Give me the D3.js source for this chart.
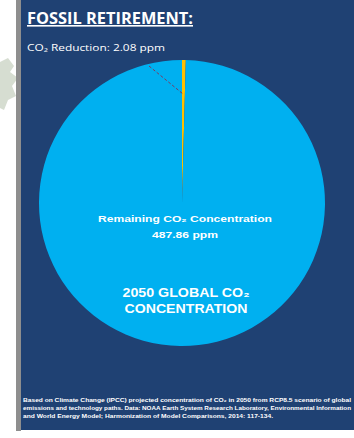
<!DOCTYPE html>
<html><head><meta charset="utf-8">
<script src="https://cdn.jsdelivr.net/npm/d3@7"></script>
<style>body{margin:0;background:#fff;}svg{display:block;font-family:"Open Sans",Calibri,"Liberation Sans",sans-serif;}</style>
</head><body>
<script>
const categories = ["CO₂ Reduction", "Remaining CO₂ Concentration"];
const values = [2.08, 487.86];
const unit = "ppm";
const colors = ["#ffc000", "#00b0f0"];
const titleText = "FOSSIL RETIREMENT:";
const subtitleText = "CO₂ Reduction: 2.08 ppm";
const centerLabel = ["2050 GLOBAL CO₂", "CONCENTRATION"];
const footnote = [
  "Based on Climate Change (IPCC) projected concentration of CO₂ in 2050 from RCP8.5 scenario of global",
  "emissions and technology paths. Data: NOAA Earth System Research Laboratory, Environmental Information",
  "and World Energy Model; Harmonization of Model Comparisons, 2014: 117-134."
];

const W = 354, H = 438;
const svg = d3.select("body").append("svg").attr("width", W).attr("height", H);
// leaf decoration on white background
svg.append("path").attr("d","M0,62 L8,58 L14,66 L10,72 L18,78 L12,86 L16,96 L8,100 L4,110 L0,108 Z").attr("fill","#d6ddd1");
// grey border
svg.append("rect").attr("x",16).attr("y",0).attr("width",5).attr("height",431).attr("fill","#8e8e8e");
// panel
const px = 21, py = 0, pw = W - 21, ph = 430;
svg.append("rect").attr("x",px).attr("y",py).attr("width",pw).attr("height",ph).attr("fill","#1f4173");
const g = svg.append("g");

// title
g.append("text").attr("x",27).attr("y",24).attr("fill","#fff")
  .attr("font-size",16).attr("font-weight","bold").attr("text-decoration","underline")
  .attr("textLength",166).attr("lengthAdjust","spacingAndGlyphs")
  .attr("font-family","'Open Sans',sans-serif").text(titleText);
g.append("text").attr("x",27).attr("y",51).attr("fill","#fff").attr("font-size",9.5)
  .attr("textLength",138).attr("lengthAdjust","spacingAndGlyphs")
  .attr("font-family","'Open Sans',sans-serif").text(subtitleText);

// pie
const cx = 182, cy = 203, r = 143;
const pie = d3.pie().sort(null).startAngle(0).endAngle(2*Math.PI);
const arcs = pie(values);
const arc = d3.arc().innerRadius(0).outerRadius(r);
const pg = g.append("g").attr("transform",`translate(${cx},${cy})`);
pg.selectAll("path").data(arcs).join("path").attr("d",arc).attr("fill",(d,i)=>colors[i]);

// leader line for small slice
const inner = d3.arc().innerRadius(r*0.76).outerRadius(r*0.76).centroid(arcs[0]);
g.append("line").attr("x1",149).attr("y1",66).attr("x2",cx+inner[0]).attr("y2",cy+inner[1])
  .attr("stroke","#7b3a62").attr("stroke-width",1).attr("stroke-dasharray","3,2");

// remaining label
g.append("text").attr("x",cx+3).attr("y",222).attr("text-anchor","middle").attr("fill","#fff")
  .attr("font-size",9.5).attr("font-weight","bold").attr("font-family","'Liberation Sans',Arial,sans-serif")
  .attr("textLength",174).attr("lengthAdjust","spacingAndGlyphs")
  .text(categories[1]);
g.append("text").attr("x",cx+3).attr("y",238).attr("text-anchor","middle").attr("fill","#fff")
  .attr("font-size",9.5).attr("font-weight","bold").attr("font-family","'Liberation Sans',Arial,sans-serif")
  .attr("textLength",66).attr("lengthAdjust","spacingAndGlyphs")
  .text(values[1].toFixed(2)+" "+unit);

// center title
const cl = [127, 123];
centerLabel.forEach((t,i)=>{
  g.append("text").attr("x",cx+4).attr("y",297+i*16).attr("text-anchor","middle").attr("fill","#fff")
   .attr("font-size",12).attr("font-weight","bold").attr("font-family","'Liberation Sans',Arial,sans-serif")
   .attr("textLength",cl[i]).attr("lengthAdjust","spacingAndGlyphs").text(t);
});

// footnote
const fl = [328, 328, 250];
footnote.forEach((t,i)=>{
  g.append("text").attr("x",23).attr("y",402+i*8).attr("fill","#fff").attr("font-size",5.8)
   .attr("font-weight","bold")
   .attr("textLength",fl[i]).attr("lengthAdjust","spacingAndGlyphs")
   .attr("font-family","'Liberation Sans',Arial,sans-serif").text(t);
});
</script>
</body></html>
